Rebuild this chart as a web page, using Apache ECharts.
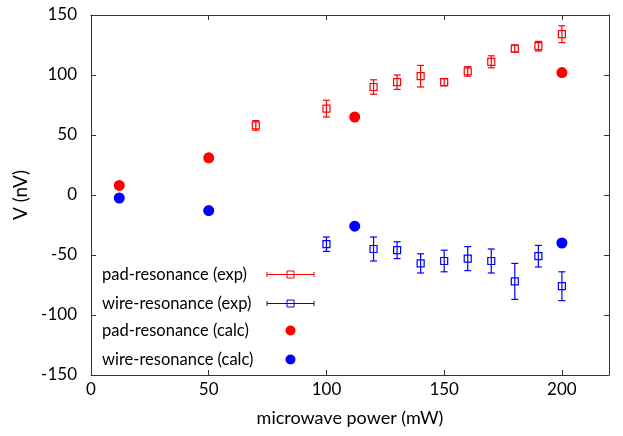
<!DOCTYPE html>
<html>
<head>
<meta charset="utf-8">
<script src="https://cdn.jsdelivr.net/npm/echarts@6/dist/echarts.min.js"></script>
<style>html,body{margin:0;padding:0;background:#fff}#c{width:623px;height:436px}</style>
</head>
<body>
<div id="c"></div>
<script>
// ---- data ----
const padExpX = [70, 100, 120, 130, 140, 150, 160, 170, 180, 190, 200];
const padExp = [58, 72, 90, 94, 99, 94, 103, 111, 122, 124, 134];
const padErr = [4, 7, 6, 6, 9, 3, 4, 5, 3, 4, 7];
const wireExpX = [100, 120, 130, 140, 150, 160, 170, 180, 190, 200];
const wireExp = [-41, -45, -46, -57, -55, -53, -55, -72, -51, -76];
const wireErr = [6, 10, 7, 8, 9, 10, 10, 15, 9, 12];
const calcX = [12, 50, 112, 200];
const padCalc = [8, 31, 65, 102];
const wireCalc = [-2.5, -13, -26, -40];
const xTicks = [0, 50, 100, 150, 200];
const yTicks = [-150, -100, -50, 0, 50, 100, 150];
const names = ['pad-resonance (exp)', 'wire-resonance (exp)', 'pad-resonance (calc)', 'wire-resonance (calc)'];

const RED = '#ff0000', BLUE = '#0000ff';
const FONT = 'Lato';

const pts = (xs, ys) => xs.map((x, i) => [x, ys[i]]);
const errPts = (xs, ys, es) => xs.map((x, i) => [x, ys[i] - es[i], ys[i] + es[i]]);

function errRender(color) {
  return function (params, api) {
    const x = api.value(0);
    const lo = api.coord([x, api.value(1)]);
    const hi = api.coord([x, api.value(2)]);
    const cw = 3.5;
    const st = { stroke: color, lineWidth: 1.2 };
    return {
      type: 'group',
      children: [
        { type: 'line', shape: { x1: lo[0], y1: lo[1], x2: hi[0], y2: hi[1] }, style: st },
        { type: 'line', shape: { x1: lo[0] - cw, y1: lo[1], x2: lo[0] + cw, y2: lo[1] }, style: st },
        { type: 'line', shape: { x1: hi[0] - cw, y1: hi[1], x2: hi[0] + cw, y2: hi[1] }, style: st }
      ]
    };
  };
}

const expIcon = 'path://M0 1 L0 6 M0 3.5 L47 3.5 M47 1 L47 6 M20 0 L27 0 L27 7 L20 7 Z';

const chart = echarts.init(document.getElementById('c'), null, { renderer: 'canvas' });
const axisLineStyle = { color: '#333', width: 1 };
const legendText = {
  fontFamily: FONT, fontSize: 16.5, color: '#000',
  rich: { a: { width: 160, align: 'left', fontFamily: FONT, fontSize: 16.5, color: '#000' } }
};
chart.setOption({
  animation: false,
  backgroundColor: '#fff',
  textStyle: { fontFamily: FONT },
  grid: { left: 91, right: 14, top: 15, bottom: 61 },
  xAxis: [{
    type: 'value', min: 0, max: 220, interval: 50,
    name: 'microwave power (mW)', nameLocation: 'middle', nameGap: 34,
    nameTextStyle: { fontFamily: FONT, fontSize: 18, color: '#000' },
    axisLine: { show: true, onZero: false, lineStyle: axisLineStyle },
    axisTick: { show: true, inside: true, length: 5, lineStyle: axisLineStyle },
    axisLabel: { fontFamily: FONT, fontSize: 17, color: '#000', margin: 6, showMaxLabel: false,
      formatter: v => xTicks.includes(v) ? String(v) : '' },
    splitLine: { show: false }
  }, {
    type: 'value', min: 0, max: 220, interval: 50, position: 'top',
    axisLine: { show: true, onZero: false, lineStyle: axisLineStyle },
    axisTick: { show: true, inside: true, length: 5, lineStyle: axisLineStyle },
    axisLabel: { show: false }, splitLine: { show: false }
  }],
  yAxis: [{
    type: 'value', min: -150, max: 150, interval: 50,
    name: 'V (nV)', nameLocation: 'middle', nameGap: 56, nameRotate: 90,
    nameTextStyle: { fontFamily: FONT, fontSize: 19, color: '#000', padding: [0, 0, 0, 0] },
    axisLine: { show: true, onZero: false, lineStyle: axisLineStyle },
    axisTick: { show: true, inside: true, length: 5, lineStyle: axisLineStyle },
    axisLabel: { fontFamily: FONT, fontSize: 17, color: '#000', margin: 14,
      formatter: v => yTicks.includes(v) ? String(v) : '' },
    splitLine: { show: false }
  }, {
    type: 'value', min: -150, max: 150, interval: 50, position: 'right',
    axisLine: { show: true, onZero: false, lineStyle: axisLineStyle },
    axisTick: { show: true, inside: true, length: 5, lineStyle: axisLineStyle },
    axisLabel: { show: false }, splitLine: { show: false }
  }],
  legend: [{
    orient: 'vertical', left: 97, top: 261, align: 'right',
    itemWidth: 47, itemHeight: 7, itemGap: 12,
    formatter: n => '{a|' + n + '}',
    textStyle: legendText,
    data: [
      { name: names[0], icon: expIcon, itemStyle: { color: 'none', borderColor: RED, borderWidth: 1, opacity: 1 } },
      { name: names[1], icon: expIcon, itemStyle: { color: 'none', borderColor: BLUE, borderWidth: 1, opacity: 1 } }
    ]
  }, {
    orient: 'vertical', left: 97, top: 317, align: 'right',
    itemWidth: 47, itemHeight: 10, itemGap: 12,
    formatter: n => '{a|' + n + '}',
    textStyle: legendText,
    data: [
      { name: names[2], icon: 'circle', itemStyle: { color: RED, opacity: 1 } },
      { name: names[3], icon: 'circle', itemStyle: { color: BLUE, opacity: 1 } }
    ]
  }],
  series: [
    { name: names[0], type: 'custom', renderItem: errRender(RED), data: errPts(padExpX, padExp, padErr), z: 2 },
    { name: names[1], type: 'custom', renderItem: errRender(BLUE), data: errPts(wireExpX, wireExp, wireErr), z: 2 },
    { name: names[0], type: 'scatter', data: pts(padExpX, padExp), symbol: 'rect', symbolSize: 7,
      itemStyle: { color: 'transparent', borderColor: RED, borderWidth: 1.2, opacity: 1 }, z: 3 },
    { name: names[1], type: 'scatter', data: pts(wireExpX, wireExp), symbol: 'rect', symbolSize: 7,
      itemStyle: { color: 'transparent', borderColor: BLUE, borderWidth: 1.2, opacity: 1 }, z: 3 },
    { name: names[2], type: 'scatter', data: pts(calcX, padCalc), symbol: 'circle', symbolSize: 11,
      itemStyle: { color: RED, opacity: 1 }, z: 4 },
    { name: names[3], type: 'scatter', data: pts(calcX, wireCalc), symbol: 'circle', symbolSize: 11,
      itemStyle: { color: BLUE, opacity: 1 }, z: 4 }
  ]
});
</script>
</body>
</html>
